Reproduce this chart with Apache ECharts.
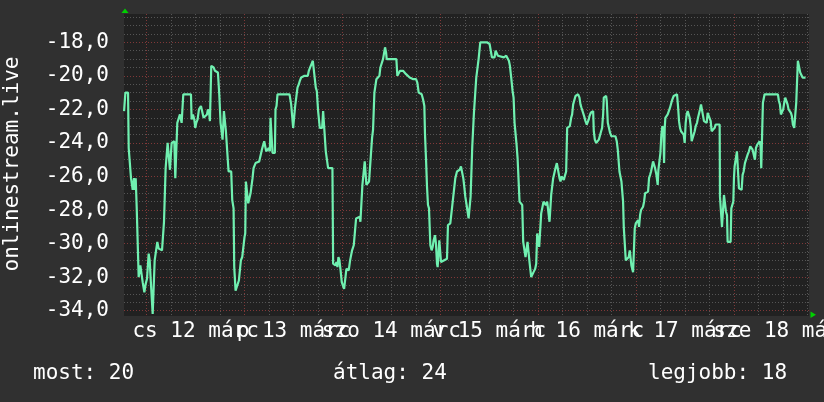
<!DOCTYPE html>
<html><head><meta charset="utf-8">
<script src="https://cdn.jsdelivr.net/npm/echarts@6/dist/echarts.min.js"></script>
<style>html,body{margin:0;padding:0;background:#303030;}#c{width:824px;height:402px;}</style>
</head><body><div id="c"></div>
<script>
// hours since 12 márc 00:00
const hours = [
-5.55,-5.23,-4.58,-4.42,-4.09,-3.85,-3.44,-3.11,-2.95,-2.70,-2.46,-2.21,-1.97,-1.72,-1.56,-1.23,-0.99,-0.58,-0.25,0.07,
0.48,0.73,0.97,1.22,1.46,1.79,1.95,2.28,2.60,2.93,3.75,4.00,4.24,4.48,4.64,4.89,5.13,5.46,5.70,5.95,
6.11,6.36,6.77,7.01,7.26,7.50,7.91,8.15,8.40,8.56,8.81,8.97,10.85,11.01,11.34,11.66,11.91,12.15,12.48,12.81,
13.30,13.70,13.95,14.44,14.77,15.01,15.34,15.50,15.75,15.83,16.40,16.73,17.46,17.79,18.11,18.60,18.93,19.17,19.42,19.91,
20.07,20.72,20.97,21.30,21.46,21.79,22.19,
22.60,22.85,23.09,23.42,23.75,23.99,24.16,24.32,24.65,24.89,25.14,25.46,25.79,25.95,26.20,26.44,26.69,27.09,27.58,27.91,
28.24,28.48,28.81,29.05,29.30,29.54,29.95,30.20,30.36,30.69,30.85,31.42,31.58,31.83,32.07,33.79,34.03,34.36,35.01,35.42,
35.67,35.91,36.24,36.40,36.73,36.97,37.30,37.54,37.87,38.36,38.69,39.50,39.75,40.07,40.40,40.73,41.22,41.46,41.71,42.03,
42.28,42.44,43.01,43.26,43.58,43.91,44.24,44.48,45.54,45.71,46.03,46.28,46.52,46.77,47.01,47.26,47.50,47.83,48.16,48.40,
48.73,48.97,49.54,49.87,50.12,50.36,50.77,51.09,51.34,51.58,
52.24,52.40,52.65,52.89,53.22,53.46,53.71,53.87,54.20,54.52,55.01,55.26,55.50,55.83,56.08,56.32,56.65,57.06,57.30,57.63,
57.95,58.20,58.44,58.69,58.85,61.22,61.46,61.79,62.12,62.44,62.85,63.26,63.59,64.00,64.48,64.97,65.38,65.71,66.04,66.36,
66.69,67.10,67.42,67.75,68.08,68.24,68.48,68.73,68.97,69.22,69.55,69.87,70.12,70.36,70.69,70.93,71.18,71.34,71.59,71.75,
72.00,72.16,72.40,72.65,73.63,73.87,74.44,74.85,75.26,75.67,76.08,76.40,76.73,77.06,77.38,77.63,77.87,78.12,78.44,78.69,
78.93,79.18,79.42,79.67,79.83,
80.24,80.49,80.81,81.14,81.38,81.79,83.42,84.08,84.40,84.65,85.06,85.30,85.55,85.87,86.12,86.45,87.59,87.91,88.16,88.49,
88.81,89.06,89.38,89.71,89.96,90.20,90.45,90.69,90.94,91.26,91.42,91.83,92.08,92.32,92.65,92.89,93.14,93.38,93.63,93.87,
94.12,94.28,94.61,94.85,95.26,95.51,95.75,96.00,96.24,96.49,96.73,96.98,97.30,97.63,97.87,98.20,98.53,98.77,99.02,99.18,
99.42,99.67,99.91,100.24,100.57,101.06,101.22,101.47,101.71,102.28,102.61,102.85,103.10,103.34,103.75,104.08,104.32,104.57,104.89,105.14,
105.47,105.79,106.12,106.36,106.61,106.93,107.26,107.59,107.91,108.16,108.40,
108.57,108.90,109.22,109.47,109.63,109.88,110.20,110.45,110.61,110.86,111.18,111.43,111.67,111.92,112.08,112.32,112.65,112.81,113.06,113.30,
113.63,113.96,114.94,115.26,115.51,115.75,115.92,116.24,116.41,116.65,116.81,116.98,117.30,117.47,117.96,118.20,118.45,118.61,118.85,119.10,
119.26,119.51,119.67,119.92,120.24,120.49,120.73,120.98,121.22,121.47,121.71,121.96,122.20,122.94,123.18,123.43,123.67,123.92,124.16,124.41,
124.65,124.98,125.30,125.47,125.71,125.96,126.20,126.45,126.69,126.86,127.02,127.18,127.75,128.00,128.32,128.65,128.90,129.22,130.04,130.28,
130.53,130.77,131.02,131.43,131.67,131.92,132.16,132.41,132.65,132.90,133.14,133.39,133.63,133.88,134.12,134.37,134.61,134.94,135.18,135.43,
135.67,135.92,136.24,
136.65,136.98,137.31,137.55,137.80,138.04,138.29,138.53,138.86,139.27,139.51,140.49,140.57,140.82,141.06,141.39,141.55,141.88,142.04,142.29,
142.45,143.18,143.35,143.59,143.84,144.00,144.16,144.49,144.73,144.98,145.22,145.88,146.12,146.37,146.69,147.02,147.35,147.67,148.00,148.24,
148.57,148.90,149.14,149.39,149.71,150.04,150.29,150.53,150.69,150.94,151.10,151.43,151.51,154.78,155.02,155.27,155.51,155.84,156.08,156.33,
156.57,156.90,157.14,157.39,157.71,157.96,158.20,158.45,158.78,159.02,159.27,159.51,159.67,160.08,160.24,160.49,160.82,161.55
];
const rank = [
-22.1,-21.0,-21.0,-24.3,-24.4,-26.1,-26.8,-26.1,-26.8,-26.1,-27.8,-27.9,-32.0,-32.0,-31.3,-31.4,-32.3,-32.9,-32.4,-32.1,
-30.6,-31.0,-32.1,-32.2,-34.2,-34.2,-31.0,-30.9,-29.9,-30.3,-30.4,-30.4,-28.7,-28.6,-25.5,-25.5,-24.0,-24.1,-25.6,-25.6,
-24.0,-23.9,-23.9,-26.1,-26.2,-22.8,-22.8,-22.3,-22.3,-22.8,-22.8,-21.1,-21.1,-22.6,-22.3,-22.6,-23.1,-22.8,-22.6,-22.0,
-21.8,-21.8,-22.5,-22.4,-22.3,-22.0,-22.3,-22.7,-22.6,-19.4,-19.5,-19.7,-19.8,-21.1,-22.8,-23.8,-22.1,-22.1,-23.3,-23.3,
-25.7,-25.7,-27.4,-27.9,-31.4,-32.8,-32.9,
-32.2,-32.1,-31.0,-30.8,-30.7,-29.6,-29.4,-26.3,-26.3,-27.6,-27.6,-27.0,-27.0,-26.1,-25.5,-25.4,-25.2,-25.1,-25.1,-25.0,
-24.4,-24.3,-23.9,-23.8,-24.5,-24.5,-24.3,-24.5,-22.5,-22.5,-24.6,-24.6,-22.0,-21.8,-21.1,-21.1,-21.2,-21.1,-21.1,-21.7,
-21.8,-23.1,-23.1,-21.8,-21.7,-20.7,-20.5,-20.3,-20.1,-20.1,-20.0,-20.0,-19.7,-19.5,-19.3,-19.1,-19.1,-20.7,-20.9,-22.1,
-22.1,-23.1,-23.1,-22.1,-22.1,-24.5,-24.6,-25.5,-25.5,-31.2,-31.1,-31.3,-31.1,-31.4,-30.8,-31.0,-31.5,-32.3,-32.4,-32.7,
-32.6,-31.5,-31.6,-31.0,-31.0,-30.4,-30.1,-30.0,-28.5,-28.4,
-28.4,-28.7,-28.7,-26.5,-26.4,-25.1,-25.1,-26.5,-26.5,-26.3,-26.2,-23.7,-23.2,-21.0,-20.9,-20.2,-20.1,-20.0,-19.5,-19.4,
-19.0,-18.9,-18.3,-18.6,-19.0,-19.0,-20.0,-19.9,-19.7,-19.6,-19.7,-19.8,-19.9,-20.0,-20.1,-20.1,-20.2,-20.1,-20.2,-20.4,
-21.0,-21.1,-21.1,-21.4,-21.8,-23.5,-24.9,-26.6,-27.7,-27.9,-30.1,-30.4,-30.2,-29.8,-29.5,-30.0,-31.2,-31.4,-31.4,-29.8,
-29.9,-31.1,-31.2,-31.0,-30.9,-28.9,-28.8,-27.9,-27.8,-26.1,-25.7,-25.7,-25.6,-25.4,-25.8,-26.1,-26.6,-27.2,-27.7,-27.6,
-28.5,-28.6,-27.2,-27.1,-24.2,
-22.2,-22.1,-20.1,-20.0,-19.0,-18.0,-18.0,-18.1,-18.2,-18.9,-19.0,-18.9,-18.5,-18.5,-18.8,-18.9,-18.9,-18.9,-18.8,-18.9,
-19.1,-19.4,-20.1,-20.9,-21.3,-22.8,-22.9,-24.1,-24.9,-25.0,-27.5,-27.6,-27.7,-29.9,-30.0,-30.8,-30.7,-29.9,-30.0,-31.1,
-31.2,-32.0,-31.9,-31.7,-31.5,-31.2,-29.4,-29.3,-30.2,-30.1,-28.2,-28.2,-27.5,-27.5,-27.7,-27.5,-27.6,-28.7,-28.6,-27.1,
-27.0,-26.1,-26.0,-25.5,-25.2,-25.1,-26.1,-26.3,-26.0,-26.2,-25.9,-25.7,-23.1,-23.0,-23.0,-22.5,-22.3,-21.7,-21.6,-21.2,
-21.1,-21.1,-21.3,-21.7,-21.9,-22.0,-22.4,-22.7,-22.9,-22.8,-22.6,
-22.4,-22.2,-22.1,-22.1,-23.3,-23.8,-24.0,-24.1,-24.0,-23.8,-23.8,-23.3,-23.1,-22.3,-21.3,-21.2,-21.2,-21.5,-22.8,-22.9,
-23.4,-23.6,-23.6,-23.9,-24.4,-24.5,-25.7,-25.8,-26.3,-26.3,-27.5,-29.0,-29.1,-31.0,-31.0,-30.8,-30.4,-30.4,-31.3,-31.4,
-31.7,-31.7,-29.1,-28.8,-28.7,-28.6,-29.0,-28.3,-28.0,-27.9,-27.8,-27.5,-27.0,-26.9,-26.1,-25.9,-25.7,-25.7,-25.1,-25.0,
-25.5,-25.9,-26.5,-25.6,-25.5,-24.6,-23.5,-23.0,-23.2,-25.2,-23.1,-22.5,-22.3,-22.3,-21.9,-21.6,-21.4,-21.2,-21.1,-21.8,
-22.7,-23.1,-23.3,-23.3,-23.5,-24.0,-22.8,-22.3,-22.1,-22.2,-22.5,-23.0,-23.9,-24.0,-23.5,-23.3,-23.0,-22.8,-22.5,-22.4,
-22.0,-21.7,-21.6,
-22.7,-22.8,-22.8,-22.2,-22.1,-22.3,-22.7,-23.3,-23.3,-23.1,-22.9,-22.9,-27.2,-27.2,-29.0,-29.1,-27.1,-27.1,-28.1,-28.3,
-29.9,-29.9,-27.9,-27.8,-27.5,-26.1,-25.4,-25.3,-24.5,-24.5,-26.7,-26.8,-25.9,-25.7,-25.2,-25.1,-24.7,-24.5,-24.2,-24.1,
-24.4,-24.4,-25.0,-24.3,-24.1,-24.0,-23.9,-24.2,-25.5,-25.5,-21.6,-21.5,-21.1,-21.1,-21.5,-21.7,-22.3,-22.3,-22.0,-21.6,
-21.3,-21.3,-21.7,-22.0,-22.0,-22.2,-22.4,-22.9,-23.1,-23.1,-21.6,-21.5,-19.1,-19.1,-19.8,-19.9,-20.1,-20.1
];
const dayLabels = ['cs 12 márc', 'p 13 márc', 'szo 14 márc', 'v 15 márc', 'h 16 márc', 'k 17 márc', 'sze 18 márc'];
const labelHours = [12, 36, 60, 84, 108, 132, 156];
const dayLines = [0, 24, 48, 72, 96, 120, 144];
const sixHourLines = [6, 12, 18, 30, 36, 42, 54, 60, 66, 78, 84, 90, 102, 108, 114, 126, 132, 138, 150, 156, 162];
const yTicks = [-34, -32, -30, -28, -26, -24, -22, -20, -18];
const yMinorTicks = [];
for (let v = -33.5; v <= -16.5; v += 0.5) { if (yTicks.indexOf(v) < 0) yMinorTicks.push(v); }
const axisTitle = 'onlinestream.live';
const statNames = ['most', 'átlag', 'legjobb'];
const statValues = [20, 24, 18];

const FONT = '"DejaVu Sans Mono", monospace';
const X_MIN = -5.57, X_MAX = 162.4, Y_MIN = -34.316, Y_MAX = -16.313;
const red = '#803838', gray = '#555555';

const chart = echarts.init(document.getElementById('c'), null, {renderer: 'canvas'});
const data = hours.map((h, i) => [h, rank[i]]);
const baseX = {type: 'value', min: X_MIN, max: X_MAX, position: 'bottom',
  axisLine: {show: false}, axisTick: {show: false}, axisLabel: {show: false}, splitLine: {show: false}};
const baseY = {type: 'value', min: Y_MIN, max: Y_MAX, position: 'left',
  axisLine: {show: false}, axisTick: {show: false}, axisLabel: {show: false}, splitLine: {show: false}};
// two label axes (alternate days) so that ECharts does not drop overlapping labels
const evenHours = labelHours.filter((h, i) => i % 2 === 0);
const oddHours = labelHours.filter((h, i) => i % 2 === 1);
function labelAxis(vals) {
  return Object.assign({}, baseX, {
    axisLabel: {show: true, customValues: vals, hideOverlap: false, showMinLabel: true, showMaxLabel: true,
      margin: 5, color: '#ffffff', fontFamily: FONT, fontSize: 21,
      formatter: v => dayLabels[labelHours.indexOf(Math.round(v))] || ''}
  });
}

chart.setOption({
  animation: false,
  backgroundColor: '#303030',
  grid: {left: 124, top: 14, width: 685, height: 302, show: true, backgroundColor: '#212121',
         borderWidth: 0, containLabel: false, outerBoundsMode: 'none'},
  xAxis: [
    Object.assign({}, baseX, {
      axisTick: {show: false, customValues: sixHourLines},
      splitLine: {show: true, lineStyle: {color: gray, width: 1, type: [1, 2]}}
    }),
    Object.assign({}, baseX, {
      axisTick: {show: false, customValues: dayLines},
      splitLine: {show: true, lineStyle: {color: red, width: 1, type: [1, 2]}}
    }),
    labelAxis(evenHours),
    labelAxis(oddHours)
  ],
  yAxis: [
    Object.assign({}, baseY, {
      axisTick: {show: false, customValues: yMinorTicks},
      splitLine: {show: true, lineStyle: {color: gray, width: 1, type: [1, 2]}}
    }),
    Object.assign({}, baseY, {
      axisTick: {show: false, customValues: yTicks},
      axisLabel: {show: true, customValues: yTicks, showMinLabel: true, showMaxLabel: true,
        margin: 15, color: '#ffffff', fontFamily: FONT, fontSize: 21,
        formatter: v => v.toFixed(1).replace('.', ',')},
      splitLine: {show: true, lineStyle: {color: red, width: 1, type: [1, 2]}}
    })
  ],
  series: [{
    type: 'line', xAxisIndex: 0, yAxisIndex: 0, data: data, showSymbol: false, symbol: 'none',
    lineStyle: {color: '#70f0b0', width: 2.2}, z: 5
  }],
  graphic: [
    {type: 'text', x: 13, y: 164, rotation: Math.PI / 2,
      style: {text: axisTitle, fill: '#ffffff', font: '21px ' + FONT, align: 'center', verticalAlign: 'middle'}},
    {type: 'text', x: 33, y: 374,
      style: {text: statNames[0] + ': ' + statValues[0], fill: '#ffffff', font: '21px ' + FONT, align: 'left', verticalAlign: 'middle'}},
    {type: 'text', x: 333, y: 374,
      style: {text: statNames[1] + ': ' + statValues[1], fill: '#ffffff', font: '21px ' + FONT, align: 'left', verticalAlign: 'middle'}},
    {type: 'text', x: 648, y: 374,
      style: {text: statNames[2] + ': ' + statValues[2], fill: '#ffffff', font: '21px ' + FONT, align: 'left', verticalAlign: 'middle'}},
    {type: 'polygon', shape: {points: [[121.5, 13], [128.5, 13], [125, 8.5]]}, style: {fill: '#00d000'}},
    {type: 'polygon', shape: {points: [[810.5, 311.5], [810.5, 318], [816, 314.8]]}, style: {fill: '#00d000'}}
  ]
});
</script>
</body></html>
